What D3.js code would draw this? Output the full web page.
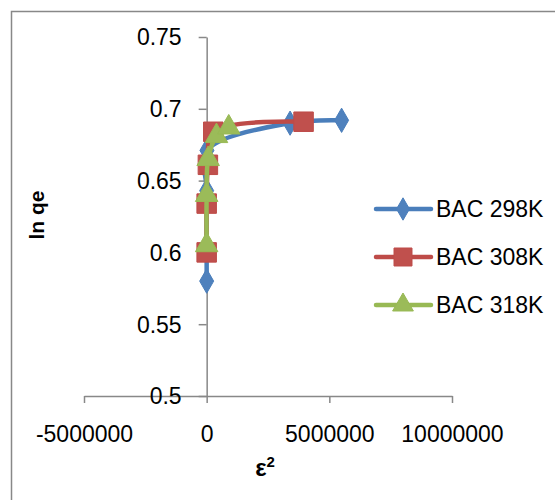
<!DOCTYPE html>
<html><head><meta charset="utf-8">
<script src="https://cdn.jsdelivr.net/npm/d3@7"></script>
<style>html,body{margin:0;padding:0;background:#fff;}</style>
</head><body>
<svg id="c" width="555" height="500"></svg>
<script>
const seriesNames = ["BAC 298K", "BAC 308K", "BAC 318K"];
const blueX = [0, 0, 10000, 3400000, 5500000];
const blueY = [0.580, 0.643, 0.671, 0.690, 0.692];
const redX = [0, 0, 50000, 270000, 3950000];
const redY = [0.600, 0.634, 0.661, 0.684, 0.691];
const greenX = [0, 0, 60000, 400000, 900000];
const greenY = [0.605, 0.640, 0.665, 0.681, 0.687];
const xTicks = [-5000000, 0, 5000000, 10000000];
const yTicks = [0.5, 0.55, 0.6, 0.65, 0.7, 0.75];

const colors = ["#4A7EBB", "#BE4B48", "#98B954"];
const fills = ["#4F81BD", "#C0504D", "#9BBB59"];
const symbols = [d3.symbolDiamond, d3.symbolSquare, d3.symbolTriangle];
const symSizes = [170, 380, 220];
const font = "'Liberation Sans', Arial, sans-serif";

const svg = d3.select("#c");
svg.append("rect").attr("x", 11.5).attr("y", 11.5).attr("width", 560).attr("height", 520)
  .attr("fill", "#fff").attr("stroke", "#888").attr("stroke-width", 1.5);

const x = d3.scaleLinear().domain([-5000000, 10000000]).range([84, 452]);
const y = d3.scaleLinear().domain([0.5, 0.75]).range([396, 37]);

// x axis at y=0.5
const gx = svg.append("g").attr("transform", `translate(0,${y(0.5)})`)
  .call(d3.axisBottom(x).tickValues(xTicks).tickFormat(d => String(d)).tickSize(7).tickSizeOuter(0));
gx.select(".domain").attr("stroke", "#888").attr("stroke-width", 1.5);
gx.selectAll(".tick line").attr("stroke", "#888").attr("stroke-width", 1.5);
gx.selectAll(".tick text").attr("y", 46).attr("dy", 0).attr("font-family", font).attr("font-size", 23).attr("fill", "#000");

// y axis at x=0
const gy = svg.append("g").attr("transform", `translate(${x(0)},0)`)
  .call(d3.axisLeft(y).tickValues(yTicks).tickFormat(d => String(+d.toFixed(2))).tickSize(8).tickPadding(17).tickSizeOuter(0));
gy.select(".domain").attr("stroke", "#888").attr("stroke-width", 1.5);
gy.selectAll(".tick line").attr("stroke", "#888").attr("stroke-width", 1.5);
gy.selectAll(".tick text").attr("font-family", font).attr("font-size", 23).attr("fill", "#000").attr("dy", "0.34em");

// axis titles
svg.append("text").attr("transform", "translate(44,215) rotate(-90)").attr("text-anchor", "middle")
  .attr("font-family", font).attr("font-weight", "bold").attr("font-size", 21).text("ln qe");
const xt = svg.append("text").attr("x", 265).attr("y", 476).attr("text-anchor", "middle")
  .attr("font-family", font).attr("font-weight", "bold").attr("font-size", 24);
xt.append("tspan").text("ε");
xt.append("tspan").attr("font-size", 15).attr("dy", -9).text("2");

const data = [
  blueX.map((v, i) => [v, blueY[i]]),
  redX.map((v, i) => [v, redY[i]]),
  greenX.map((v, i) => [v, greenY[i]])
];
const line = d3.line().x(d => x(d[0])).y(d => y(d[1])).curve(d3.curveCatmullRom.alpha(0.5));

data.forEach((pts, s) => {
  const g = svg.append("g");
  g.append("path").attr("d", line(pts)).attr("fill", "none").attr("stroke", colors[s])
    .attr("stroke-width", 4.5).attr("stroke-linejoin", "round").attr("stroke-linecap", "round");
  g.selectAll("path.m").data(pts).join("path").attr("class", "m")
    .attr("transform", d => `translate(${x(d[0])},${y(d[1])})`)
    .attr("d", d3.symbol(symbols[s], symSizes[s])).attr("fill", fills[s]).attr("stroke", colors[s]).attr("stroke-width", 1);
});

// legend
const legY = [209, 257, 305];
seriesNames.forEach((n, s) => {
  const g = svg.append("g").attr("transform", `translate(0,${legY[s]})`);
  g.append("line").attr("x1", 376).attr("x2", 431).attr("y1", 0).attr("y2", 0)
    .attr("stroke", colors[s]).attr("stroke-width", 4.5).attr("stroke-linecap", "round");
  g.append("path").attr("transform", "translate(403,0)").attr("d", d3.symbol(symbols[s], symSizes[s] * 0.85))
    .attr("fill", fills[s]).attr("stroke", colors[s]).attr("stroke-width", 1);
  g.append("text").attr("x", 436).attr("y", 0).attr("dy", "0.35em").attr("font-family", font)
    .attr("font-size", 23).attr("fill", "#000").text(n);
});
</script>
</body></html>
